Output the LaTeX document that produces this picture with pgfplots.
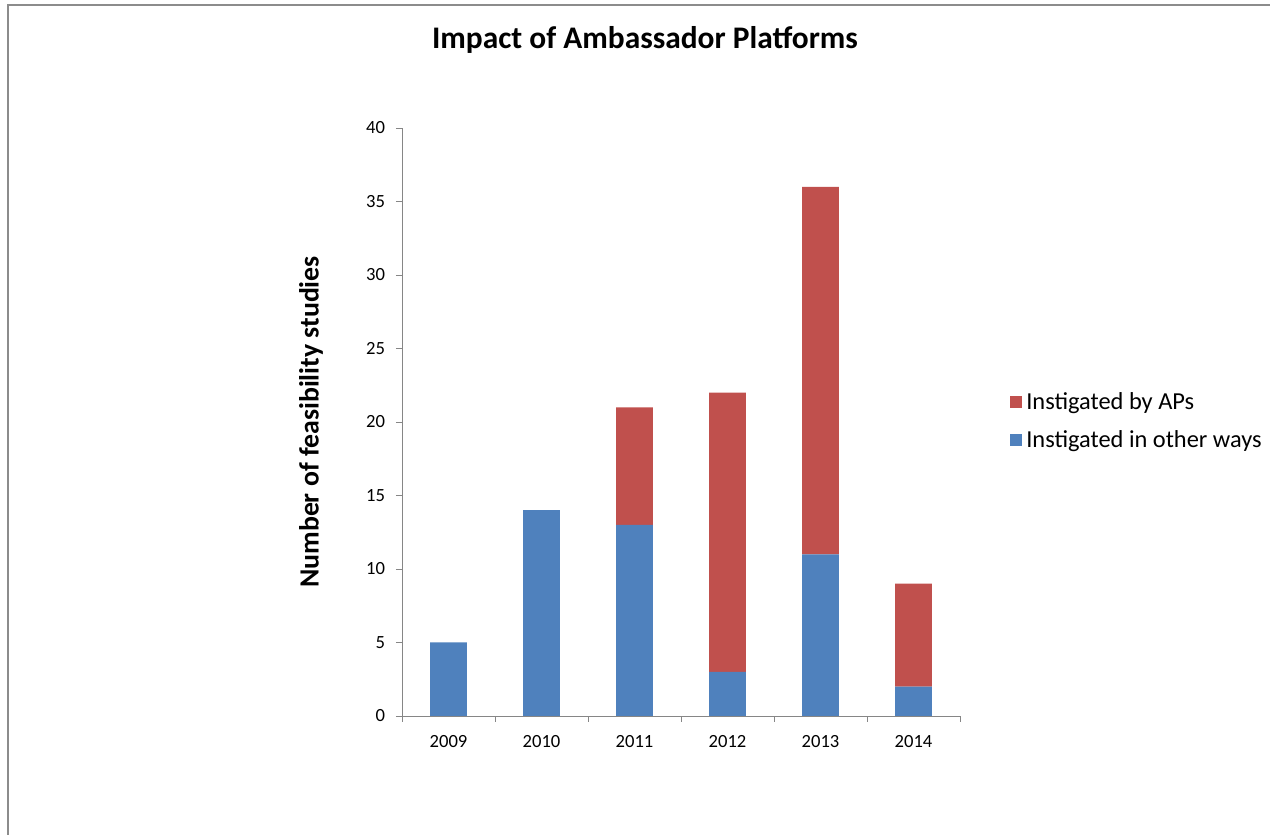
\documentclass[border=0pt]{standalone}
\usepackage{pgfplots}
\pgfplotsset{compat=1.18}
\usepackage{fontspec}
\setmainfont{Carlito}
\definecolor{barblue}{HTML}{4F81BD}
\definecolor{barred}{HTML}{C0504D}
\definecolor{axgray}{HTML}{868686}
\begin{document}
\begin{tikzpicture}[x=0.5pt,y=0.5pt]
\begin{axis}[
  scale only axis, width=279pt, height=294pt,
  ybar stacked, bar width=18.3pt,
  xmin=-0.5, xmax=5.5, ymin=0, ymax=40,
  xtick={0,1,2,3,4,5},
  xticklabels={2009,2010,2011,2012,2013,2014},
  minor xtick={-0.5,0.5,1.5,2.5,3.5,4.5,5.5},
  major x tick style={draw=none},
  ytick={0,5,...,40},
  axis lines=left,
  axis line style={-, color=axgray},
  tick style={color=axgray},
  tick align=outside,
  major tick length=3pt, minor tick length=3pt,
  every tick label/.append style={font=\fontsize{9.3pt}{11pt}\selectfont, text=black},
  /pgf/number format/assume math mode=true,
  yticklabel style={xshift=-2pt},
  xticklabel style={yshift=-3pt},
  ylabel={\bfseries Number of feasibility studies},
  ylabel style={font=\fontsize{13.9pt}{16pt}\selectfont, at={(axis description cs:-0.129,0.5)}},
  legend style={draw=none, at={(axis description cs:1.078,0.565)}, anchor=north west,
    font=\fontsize{12.2pt}{14pt}\selectfont, row sep=5pt, cells={anchor=west}},
  legend image code/.code={\fill[#1] (-2pt,-3.1pt) rectangle (4.2pt,3.1pt);},
  reverse legend,
  clip=false,
]
\addplot[fill=barblue, draw=none] coordinates {(0,5) (1,14) (2,13) (3,3) (4,11) (5,2)};
\addplot[fill=barred, draw=none] coordinates {(0,0) (1,0) (2,8) (3,19) (4,25) (5,7)};
\legend{Instigated in other ways, Instigated by APs}
\coordinate (O) at (rel axis cs:0,0);
\end{axis}
\draw[color=gray!90, line width=1.2pt] ([shift={(-394,-119)}]O) -- ++(0,830) -- ++(1262,0);
\node[font=\bfseries\fontsize{15.7pt}{18pt}\selectfont] at ([shift={(243,676)}]O) {Impact of Ambassador Platforms};
\pgfresetboundingbox
\path[use as bounding box] ([shift={(-402,-119)}]O) rectangle ++(1270,835);
\end{tikzpicture}
\end{document}
